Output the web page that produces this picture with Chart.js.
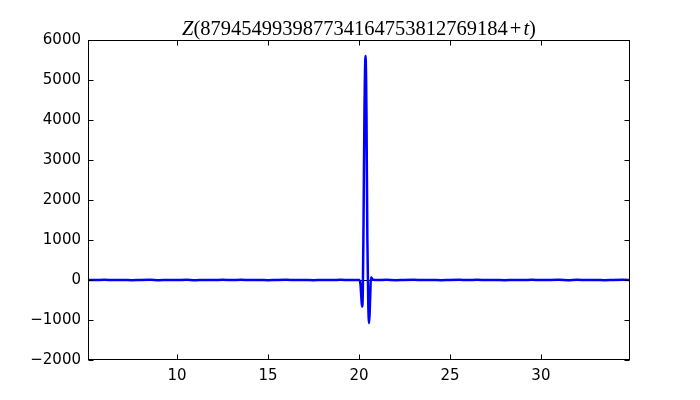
<!DOCTYPE html>
<html>
<head>
<meta charset="utf-8">
<script src="https://cdn.jsdelivr.net/npm/chart.js@4/dist/chart.umd.min.js"></script>
<style>
  html, body { margin: 0; padding: 0; background: #ffffff; }
  #wrap { width: 700px; height: 400px; }
</style>
</head>
<body>
<div id="wrap"><canvas id="c" width="700" height="400"></canvas></div>
<script>
// ---- data ----
// title pieces: [text, italic?]
const titleParts = [["Z", true], ["(879454993987734164753812769184", false], ["+", false], ["t", true], [")", false]];

const tLeft = [5.0, 5.5, 6.0, 6.5, 7.0, 7.5, 8.0, 8.5, 9.0, 9.5, 10.0, 10.5, 11.0, 11.5, 12.0, 12.5, 13.0, 13.5, 14.0, 14.5, 15.0, 15.5, 16.0, 16.5, 17.0, 17.5, 18.0, 18.5, 19.0, 19.5];
const zLeft = [2, -3, 4, -2, 3, -5, 2, 5, -4, 1, -2, 6, -4, 3, -1, 4, -3, 5, -2, 2, -4, 3, 5, -3, 1, -5, 3, -2, 4, -2];

const tSpike = [19.9, 20.0, 20.08, 20.13, 20.17, 20.21, 20.25, 20.30, 20.36, 20.41, 20.46, 20.51, 20.56, 20.61, 20.66, 20.72, 20.8];
const zSpike = [3, 0, -100, -450, -667, -300, 1500, 4200, 5600, 4200, 1000, -600, -1080, -500, 70, 30, 5];

const tRight = [21.0, 21.5, 22.0, 22.5, 23.0, 23.5, 24.0, 24.5, 25.0, 25.5, 26.0, 26.5, 27.0, 27.5, 28.0, 28.5, 29.0, 29.5, 30.0, 30.5, 31.0, 31.5, 32.0, 32.5, 33.0, 33.5, 34.0, 34.5, 35.0];
const zRight = [-3, 4, -4, 2, 5, -2, 3, -5, 2, 4, -3, 6, -2, 3, -4, 3, -2, 5, -3, 2, 4, -4, 5, -1, 3, -4, 2, 4, -2];

const xTicks = [10, 15, 20, 25, 30];
const yTicks = [-2000, -1000, 0, 1000, 2000, 3000, 4000, 5000, 6000];
const xMin = 5.1, xMax = 34.9, yMin = -2000, yMax = 6000;

// ---- build points ----
const tAll = tLeft.concat(tSpike, tRight);
const zAll = zLeft.concat(zSpike, zRight);
const points = tAll.map((t, i) => ({ x: t, y: zAll[i] }));

const fmt = v => (v < 0 ? "\u2212" + Math.abs(v) : String(v));

const frame = {
  id: 'frame',
  beforeDatasetsDraw(chart) {
    const { ctx, chartArea: a, scales: { y } } = chart;
    ctx.save();
    ctx.beginPath();
    ctx.rect(a.left, a.top, a.right - a.left, a.bottom - a.top);
    ctx.clip();
    ctx.strokeStyle = '#000';
    ctx.lineWidth = 1;
    const y0 = Math.round(y.getPixelForValue(0)) + 0.5;
    ctx.beginPath();
    ctx.moveTo(a.left, y0); ctx.lineTo(a.right, y0);
    ctx.stroke();
    ctx.restore();
  },
  afterDraw(chart) {
    const { ctx, chartArea: a, scales: { x, y } } = chart;
    ctx.save();
    ctx.strokeStyle = '#000';
    ctx.lineWidth = 1;
    const L = Math.round(a.left) + 0.5, R = Math.round(a.right) - 0.5;
    const T = Math.round(a.top) + 0.5, B = Math.round(a.bottom) - 0.5;
    ctx.strokeRect(L, T, R - L, B - T);
    const len = 5;
    ctx.beginPath();
    x.ticks.forEach(tk => {
      const px = Math.round(x.getPixelForValue(tk.value)) + 0.5;
      ctx.moveTo(px, B); ctx.lineTo(px, B - len);
      ctx.moveTo(px, T); ctx.lineTo(px, T + len);
    });
    y.ticks.forEach(tk => {
      const py = Math.round(y.getPixelForValue(tk.value)) + 0.5;
      ctx.moveTo(L, py); ctx.lineTo(L + len, py);
      ctx.moveTo(R, py); ctx.lineTo(R - len, py);
    });
    ctx.stroke();

    // title with italic math letters
    const size = 20.5;
    const fontFor = it => (it ? 'italic ' : '') + size + 'px "Liberation Serif"';
    let total = 0;
    titleParts.forEach(([s, it]) => { ctx.font = fontFor(it); total += ctx.measureText(s).width + (s === '+' ? 4 : 0); });
    let cx = (a.left + a.right) / 2 - total / 2;
    ctx.fillStyle = '#000';
    ctx.textBaseline = 'alphabetic';
    ctx.textAlign = 'left';
    titleParts.forEach(([s, it]) => {
      ctx.font = fontFor(it);
      if (s === '+') { cx += 2; }
      ctx.fillText(s, cx, 35);
      cx += ctx.measureText(s).width + (s === '+' ? 2 : 0);
    });
    ctx.restore();
  }
};

new Chart(document.getElementById('c'), {
  type: 'line',
  data: {
    datasets: [{
      data: points,
      borderColor: '#0000ff',
      borderWidth: 2.5,
      pointRadius: 0,
      cubicInterpolationMode: 'monotone',
      fill: false
    }]
  },
  options: {
    responsive: false,
    animation: false,
    layout: { padding: { left: 0, right: 70, top: 40, bottom: 0 } },
    plugins: {
      legend: { display: false },
      tooltip: { enabled: false },
      title: { display: false }
    },
    scales: {
      x: {
        type: 'linear',
        min: xMin, max: xMax,
        afterBuildTicks: s => { s.ticks = xTicks.map(v => ({ value: v })); },
        afterFit: s => { s.height = 40; },
        grid: { display: false, drawTicks: false },
        border: { display: false },
        ticks: { color: '#000', padding: 7, maxRotation: 0, font: { family: 'DejaVu Sans', size: 15 }, callback: v => fmt(v) }
      },
      y: {
        type: 'linear',
        min: yMin, max: yMax,
        afterBuildTicks: s => { s.ticks = yTicks.map(v => ({ value: v })); },
        afterFit: s => { s.width = 88; },
        grid: { display: false, drawTicks: false },
        border: { display: false },
        ticks: { color: '#000', padding: 7, font: { family: 'DejaVu Sans', size: 15 }, callback: v => fmt(v) }
      }
    }
  },
  plugins: [frame]
});
</script>
</body>
</html>
